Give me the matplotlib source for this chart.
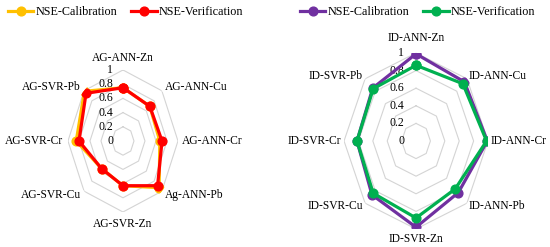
import numpy as np
import matplotlib
matplotlib.use("Agg")
import matplotlib.pyplot as plt
from matplotlib.lines import Line2D

plt.rcParams['font.family'] = ['Liberation Serif', 'DejaVu Serif']

# data
ag_labels = ['AG-ANN-Zn', 'AG-ANN-Cu', 'AG-ANN-Cr', 'Ag-ANN-Pb',
             'AG-SVR-Zn', 'AG-SVR-Cu', 'AG-SVR-Cr', 'AG-SVR-Pb']
ag_cal = [0.75, 0.69, 0.67, 0.93, 0.63, 0.55, 0.85, 0.99]
ag_ver = [0.75, 0.69, 0.71, 0.89, 0.63, 0.55, 0.80, 0.95]

id_labels = ['ID-ANN-Zn', 'ID-ANN-Cu', 'ID-ANN-Cr', 'ID-ANN-Pb',
             'ID-SVR-Zn', 'ID-SVR-Cu', 'ID-SVR-Cr', 'ID-SVR-Pb']
id_cal = [0.99, 0.95, 0.99, 0.83, 0.98, 0.865, 0.82, 0.85]
id_ver = [0.86, 0.92, 0.98, 0.77, 0.875, 0.84, 0.82, 0.84]

ticks = [0, 0.2, 0.4, 0.6, 0.8, 1]
tick_labels = ['0', '0.2', '0.4', '0.6', '0.8', '1']


def radar(ax, labels, cal, ver, c_cal, c_ver, r_lab, r_top, tick_off):
    n = len(labels)
    theta = np.linspace(0, 2 * np.pi, n, endpoint=False)
    tc = np.append(theta, theta[0])
    ax.set_theta_zero_location('N')
    ax.set_theta_direction(-1)
    ax.set_aspect('auto')
    ax.set_ylim(0, 1)
    ax.grid(False)
    ax.set_xticks([])
    ax.set_yticks([])
    ax.spines['polar'].set_visible(False)
    # octagon grid
    for r in ticks[1:]:
        ax.plot(tc, [r] * (n + 1), color='#d4d4d4', lw=0.8, zorder=1)
    for v, s in zip(ticks, tick_labels):
        ax.annotate(s, xy=(0, v), xytext=(-tick_off, 0), textcoords='offset points',
                    ha='right', va='center', fontsize=8.5, zorder=2)
    for vals, c in [(cal, c_cal), (ver, c_ver)]:
        ax.plot(tc, np.append(vals, vals[0]), color=c, lw=2.3, marker='o',
                markersize=6.3, markerfacecolor=c, markeredgecolor=c, zorder=3)
    for t, lab in zip(theta, labels):
        s, c = np.sin(t), np.cos(t)
        ha = 'left' if s > 0.1 else ('right' if s < -0.1 else 'center')
        va = 'bottom' if c > 0.9 else ('top' if c < -0.9 else 'center')
        r = r_top if c > 0.9 else r_lab
        ax.text(t, r, lab, ha=ha, va=va, fontsize=8.3, clip_on=False)


fig = plt.figure(figsize=(5.5, 2.47), dpi=100)

ax1 = fig.add_axes([0.1236, 0.1417, 0.2, 0.575], projection='polar')
radar(ax1, ag_labels, ag_cal, ag_ver, '#FFC000', '#FF0000', 1.08, 1.09, 7)

ax2 = fig.add_axes([0.6255, 0.0729, 0.2618, 0.7126], projection='polar')
radar(ax2, id_labels, id_cal, id_ver, '#7030A0', '#00B050', 1.04, 1.1, 8.5)


def legend(x, c1, c2):
    h = [Line2D([], [], color=c1, lw=2.3, marker='o', markersize=6.3),
         Line2D([], [], color=c2, lw=2.3, marker='o', markersize=6.3)]
    fig.legend(h, ['NSE-Calibration', 'NSE-Verification'], loc='center left',
               bbox_to_anchor=(x, 0.951), ncol=2, frameon=False, fontsize=8.7,
               handlelength=2.1, handletextpad=0.15, columnspacing=1.2,
               borderpad=0, borderaxespad=0)


legend(8 / 550, '#FFC000', '#FF0000')
legend(300 / 550, '#7030A0', '#00B050')

fig.savefig('out.png', dpi=100)
